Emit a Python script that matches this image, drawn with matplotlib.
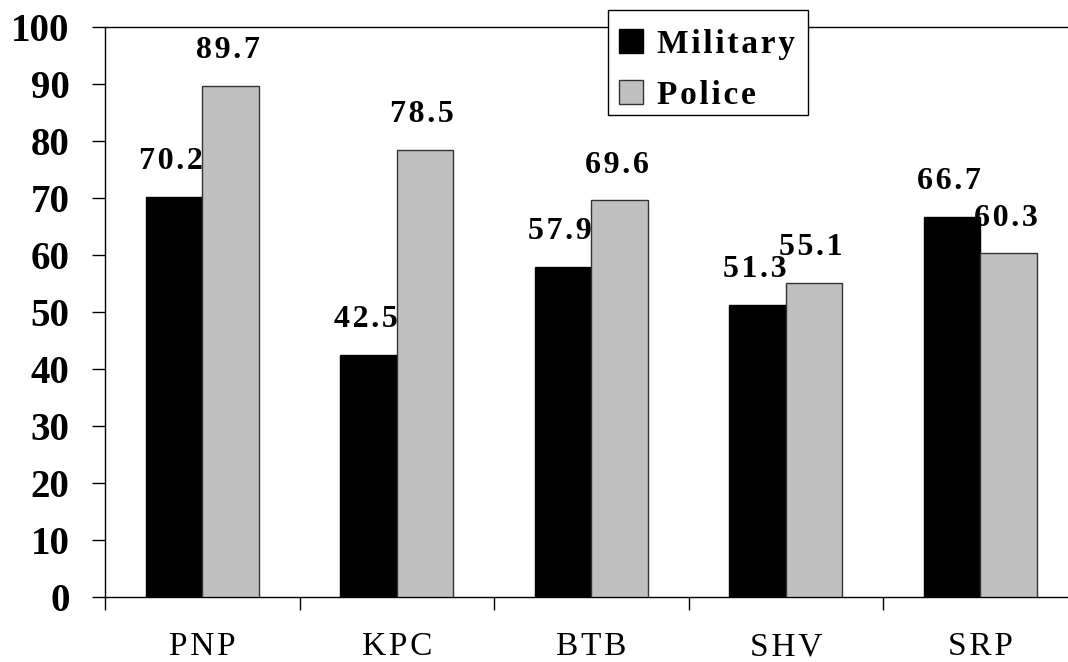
import numpy as np
import matplotlib.pyplot as plt
from matplotlib.patches import Rectangle
from matplotlib.ticker import FixedLocator

categories = ['PNP', 'KPC', 'BTB', 'SHV', 'SRP']
military = [70.2, 42.5, 57.9, 51.3, 66.7]
police = [89.7, 78.5, 69.6, 55.1, 60.3]
y_ticks = [0, 10, 20, 30, 40, 50, 60, 70, 80, 90, 100]

plt.rcParams['font.family'] = ['Liberation Serif', 'DejaVu Serif']

W, H = 1068, 662


def spaced(s):
    # the original has loose letter spacing, fake it with hair spaces
    return '\u200a'.join(s)


fig = plt.figure(figsize=(W / 100, H / 100), dpi=100)
# axes runs a bit past the right edge, like the original crop
ax = fig.add_axes([105 / W, 65 / H, 972.5 / W, 570 / H])

x = np.arange(len(categories))
w = 0.29
ax.bar(x - w / 2, military, w, color='black', edgecolor='black',
       linewidth=1, label=spaced('Military'), zorder=2)
ax.bar(x + w / 2, police, w, color='#c0c0c0', edgecolor='#333333',
       linewidth=1, label=spaced('Police'), zorder=3)

# value labels sit behind the neighbouring bars
for xi, v in zip(x, military):
    ax.annotate(spaced(f'{v:.1f}'), (xi - w / 2, v), xytext=(-2, 20),
                textcoords='offset points', ha='center', va='baseline',
                fontsize=23, fontweight='bold', zorder=1)
for xi, v in zip(x, police):
    ax.annotate(spaced(f'{v:.1f}'), (xi + w / 2, v), xytext=(-2, 20),
                textcoords='offset points', ha='center', va='baseline',
                fontsize=23, fontweight='bold', zorder=1.5)

ax.set_xlim(-0.5, len(categories) - 0.5)
ax.set_ylim(0, 100)
ax.set_yticks(y_ticks)
ax.tick_params(axis='y', direction='out', length=9.5, width=1,
               pad=16, labelsize=28)
for lbl in ax.get_yticklabels():
    lbl.set_fontweight('bold')

ax.set_xticks(x)
ax.set_xticklabels([spaced(c) for c in categories])
ax.tick_params(axis='x', which='major', length=0, pad=25, labelsize=24)
ax.xaxis.set_minor_locator(FixedLocator(np.arange(len(categories) + 1) - 0.5))
ax.tick_params(axis='x', which='minor', direction='out', length=9.5, width=1)

for s in ax.spines.values():
    s.set_linewidth(1)
    s.set_color('black')

# legend box drawn separately so the entries can sit low in it
fig.patches.append(Rectangle((608 / W, 1 - 115 / H), 200 / W, 105 / H,
                             transform=fig.transFigure, facecolor='white',
                             edgecolor='black', linewidth=1, zorder=4))
leg = fig.legend(loc='upper left', bbox_to_anchor=(619 / W, 1 - 29 / H),
                 bbox_transform=fig.transFigure, borderaxespad=0,
                 frameon=False, borderpad=0,
                 handlelength=0.72, handleheight=0.72, handletextpad=0.42,
                 labelspacing=0.6,
                 prop={'size': 24, 'weight': 'bold'})
leg.set_zorder(10)

fig.savefig('out.png', dpi=100)
